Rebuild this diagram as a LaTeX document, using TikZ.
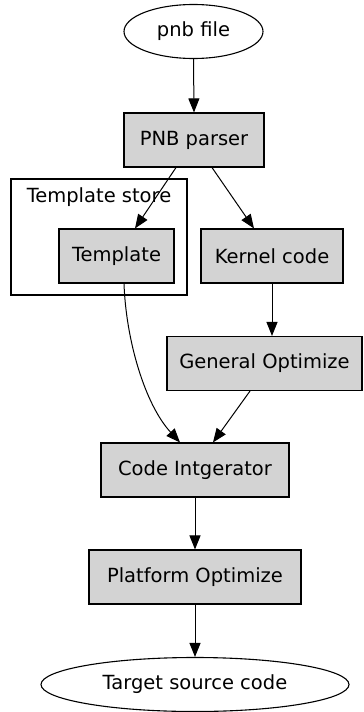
\documentclass[tikz,border=0pt]{standalone}
\usepackage{fontspec}
\setmainfont{DejaVu Sans}
\usetikzlibrary{arrows.meta,shapes.geometric}
\definecolor{boxgray}{RGB}{211,211,211}
\begin{document}
\begin{tikzpicture}[x=1pt,y=1pt,
  lbl/.style={font=\fontsize{19.5}{23}\selectfont, text=black},
  proc/.style={lbl, rectangle, draw=black, fill=boxgray, line width=1.1pt,
    minimum height=54pt, inner sep=0pt},
  term/.style={lbl, ellipse, draw=black, fill=white, line width=1.1pt,
    minimum height=54pt, inner sep=0pt},
  cluster/.style={draw=black, line width=1.1pt},
  flow/.style={-{Triangle[length=14pt,width=11pt]}, line width=1pt, draw=black}
]
\useasboundingbox (0,0) rectangle (364,-712);

% template store cluster
\draw[cluster] (11,-179) rectangle (187,-295);
\node[lbl] (storelbl) at (99,-197) {Template store};

% nodes
\node[term, minimum width=139pt] (pnb) at (193.5,-31.5) {pnb file};
\node[proc, minimum width=140pt] (parser) at (194,-140) {PNB parser};
\node[proc, minimum width=115pt] (tpl) at (116.5,-256) {Template};
\node[proc, minimum width=142pt] (kernel) at (272,-256) {Kernel code};
\node[proc, minimum width=195pt] (genopt) at (264.5,-363.5) {General Optimize};
\node[proc, minimum width=188pt] (integ) at (195,-470) {Code Intgerator};
\node[proc, minimum width=212pt] (platopt) at (195,-577) {Platform Optimize};
\node[term, minimum width=308pt] (target) at (195,-684.5) {Target source code};

% connectors
\draw[flow] (pnb.south) -- (parser.north);
\draw[flow] ([xshift=-18pt]parser.south) -- ([xshift=18.5pt]tpl.north);
\draw[flow] ([xshift=18pt]parser.south) -- ([xshift=-18pt]kernel.north);
\draw[flow] (kernel.south) -- (kernel.south |- genopt.north);
\draw[flow] ([xshift=7.5pt]tpl.south) .. controls +(2,-57) and +(-35,38) .. ([xshift=-15pt]integ.north);
\draw[flow] ([xshift=-14.5pt]genopt.south) -- ([xshift=18pt]integ.north);
\draw[flow] (integ.south) -- (platopt.north);
\draw[flow] (platopt.south) -- (target.north);
\end{tikzpicture}
\end{document}
